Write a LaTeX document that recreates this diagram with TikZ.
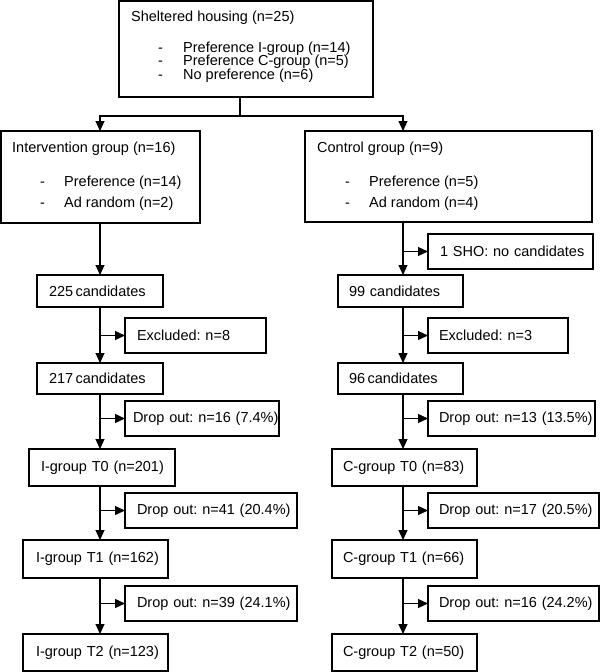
\documentclass[tikz,border=0pt]{standalone}
\usepackage{fontspec}
\setmainfont{Liberation Sans}
\usetikzlibrary{arrows.meta}
\frenchspacing

\begin{document}
\begin{tikzpicture}[x=1pt, y=-1pt]
        \tikzset{boxes/.style={draw, line width=1.2pt, anchor=north west, outer sep=0pt, inner ysep=0pt, inner xsep=12pt, align=left, font=\fontsize{14.5}{17}\selectfont},
                 txt/.style={anchor=base west, inner sep=0pt, font=\fontsize{14.5}{17}\selectfont},
                 links/.style={line width=1.2pt},
                 flow/.style={line width=1.2pt, -{Triangle[length=10pt, width=9pt]}}}
        \useasboundingbox (0,0) rectangle (600,672);
        \node [boxes, minimum width=254, minimum height=96] (shelter) at (119,1) {};
        \node [txt] (shelterT) at (131,21) {Sheltered housing (n=25)};
        \node [txt] (shelterA) at (158,52) {\makebox[25pt][l]{-}Preference I-group (n=14)};
        \node [txt] (shelterB) at (158,65.5) {\makebox[25pt][l]{-}Preference C-group (n=5)};
        \node [txt] (shelterC) at (158,79) {\makebox[25pt][l]{-}No preference (n=6)};
        \node [boxes, minimum width=199, minimum height=92] (interv) at (1,131) {};
        \node [txt] (intervT) at (12,152) {Intervention group (n=16)};
        \node [txt] (intervA) at (40,186) {\makebox[24pt][l]{-}Preference (n=14)};
        \node [txt] (intervB) at (40,207) {\makebox[24pt][l]{-}Ad random (n=2)};
        \node [boxes, minimum width=287, minimum height=91] (control) at (305,131) {};
        \node [txt] (controlT) at (317,152) {Control group (n=9)};
        \node [txt] (controlA) at (345,186) {\makebox[24pt][l]{-}Preference (n=5)};
        \node [txt] (controlB) at (345,207) {\makebox[24pt][l]{-}Ad random (n=4)};
        \node [boxes, minimum height=32, text width=102] (i225) at (37,275) {\mbox{225\,candidates}};
        \node [boxes, minimum height=35, text width=117] (iexcl) at (125,318) {\mbox{Excluded: n=8}};
        \node [boxes, minimum height=31, text width=102] (i217) at (37,363) {\mbox{217\,candidates}};
        \node [boxes, minimum height=35, inner xsep=8pt, text width=138] (idrop0) at (125,401) {\mbox{Drop out: n=16 (7.4\%)}};
        \node [boxes, minimum height=37, text width=122] (it0) at (29,449) {\mbox{I-group T0 (n=201)}};
        \node [boxes, minimum height=35, text width=148] (idrop1) at (125,493) {\mbox{Drop out: n=41 (20.4\%)}};
        \node [boxes, minimum height=38, inner xsep=13pt, text width=119] (it1) at (23,540) {\mbox{I-group T1 (n=162)}};
        \node [boxes, minimum height=35, text width=148] (idrop2) at (125,586) {\mbox{Drop out: n=39 (24.1\%)}};
        \node [boxes, minimum height=37, inner xsep=13pt, text width=119] (it2) at (23,634) {\mbox{I-group T2 (n=123)}};
        \node [boxes, minimum height=35, text width=141] (csho) at (428,234) {\mbox{1 SHO: no candidates}};
        \node [boxes, minimum height=32, inner xsep=11pt, text width=103] (c99) at (338,275) {\mbox{99 candidates}};
        \node [boxes, minimum height=35, inner xsep=11pt, text width=118] (cexcl) at (428,318) {\mbox{Excluded: n=3}};
        \node [boxes, minimum height=31, inner xsep=11pt, text width=103] (c96) at (338,363) {\mbox{96\,candidates}};
        \node [boxes, minimum height=35, inner xsep=11pt, text width=145] (cdrop0) at (428,401) {\mbox{Drop out: n=13 (13.5\%)}};
        \node [boxes, minimum height=37, inner xsep=11pt, text width=123] (ct0) at (332,449) {\mbox{C-group T0 (n=83)}};
        \node [boxes, minimum height=35, inner xsep=11pt, text width=149] (cdrop1) at (428,493) {\mbox{Drop out: n=17 (20.5\%)}};
        \node [boxes, minimum height=38, inner xsep=11pt, text width=123] (ct1) at (332,540) {\mbox{C-group T1 (n=66)}};
        \node [boxes, minimum height=35, inner xsep=11pt, text width=149] (cdrop2) at (428,586) {\mbox{Drop out: n=16 (24.2\%)}};
        \node [boxes, minimum height=37, inner xsep=11pt, text width=123] (ct2) at (332,634) {\mbox{C-group T2 (n=50)}};
        \coordinate (split) at (240,116);
        \coordinate (colI) at (100,0);
        \coordinate (colC) at (403,0);
        \draw [links] (shelter.south -| split) -- (split);
        \draw [flow] (split) -| (colI |- interv.north);
        \draw [flow] (split) -| (colC |- control.north);
        \draw [flow] (interv.south -| colI) -- (i225.north -| colI);
        \draw [flow] (i225.south -| colI) -- (i217.north -| colI);
        \draw [flow] (colI |- iexcl.west) -- (iexcl.west);
        \draw [flow] (i217.south -| colI) -- (it0.north -| colI);
        \draw [flow] (colI |- idrop0.west) -- (idrop0.west);
        \draw [flow] (it0.south -| colI) -- (it1.north -| colI);
        \draw [flow] (colI |- idrop1.west) -- (idrop1.west);
        \draw [flow] (it1.south -| colI) -- (it2.north -| colI);
        \draw [flow] (colI |- idrop2.west) -- (idrop2.west);
        \draw [flow] (control.south -| colC) -- (c99.north -| colC);
        \draw [flow] (colC |- csho.west) -- (csho.west);
        \draw [flow] (c99.south -| colC) -- (c96.north -| colC);
        \draw [flow] (colC |- cexcl.west) -- (cexcl.west);
        \draw [flow] (c96.south -| colC) -- (ct0.north -| colC);
        \draw [flow] (colC |- cdrop0.west) -- (cdrop0.west);
        \draw [flow] (ct0.south -| colC) -- (ct1.north -| colC);
        \draw [flow] (colC |- cdrop1.west) -- (cdrop1.west);
        \draw [flow] (ct1.south -| colC) -- (ct2.north -| colC);
        \draw [flow] (colC |- cdrop2.west) -- (cdrop2.west);
    \end{tikzpicture}
\end{document}
